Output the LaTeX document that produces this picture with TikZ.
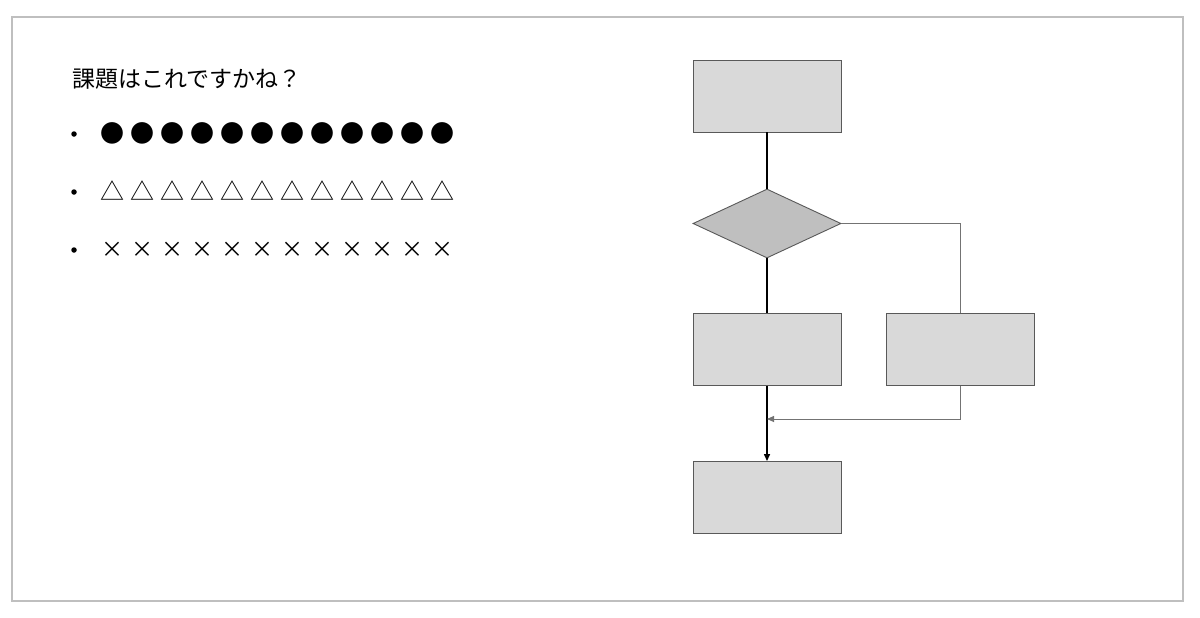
\documentclass[tikz,border=0pt]{standalone}
\usepackage{fontspec}
\newfontfamily\cjk{Noto Sans CJK JP}
\usetikzlibrary{shapes.geometric,arrows.meta}
\tikzset{
  procbox/.style={draw=black!65,line width=0.9pt,fill=black!15,minimum width=148pt,minimum height=72pt,inner sep=0pt},
  decbox/.style={diamond,aspect=2.15,draw=black!65,line width=0.9pt,fill=black!25,minimum width=148pt,minimum height=69pt,inner sep=0pt},
  mainline/.style={line width=1.4pt,black},
  sideline/.style={line width=0.9pt,black!55},
  tip/.style={-{Triangle[length=7pt,width=6pt]}},
  sym/.style={inner sep=0pt},
  circsym/.style={sym,font=\cjk\fontsize{24}{24}\selectfont},
  trisym/.style={sym,font=\cjk\fontsize{24}{24}\selectfont},
  crosssym/.style={sym,font=\cjk\fontsize{22}{22}\selectfont},
  bul/.style={circle,fill=black,inner sep=0pt,minimum size=5.5pt}
}
\begin{document}
\begin{tikzpicture}[x=1pt,y=-1pt]
\useasboundingbox (0,0) rectangle (1200,618);
\fill[white] (0,0) rectangle (1200,618);
\draw[black!25,line width=1.2pt] (12,17) rectangle (1183,601);
% text
\node[anchor=base west,inner sep=0pt,font=\cjk\fontsize{23}{23}\selectfont] (title) at (72,88) {課題はこれですかね？};
\node[bul] (b1) at (74,134) {};
\node[bul] (b2) at (74,192) {};
\node[bul] (b3) at (74,250) {};
\foreach \i in {0,...,11}{
  \node[circsym] (c\i) at (112.3+30*\i,133) {●};
  \node[trisym] (t\i) at (112.6+30*\i,191) {△};
  \node[crosssym] (x\i) at (112.5+30*\i,249.5) {×};
}
% flowchart
\node[procbox] (top) at (767,96) {};
\node[decbox] (dec) at (767,223.5) {};
\node[procbox] (left) at (767,349.5) {};
\node[procbox] (right) at (960.5,349.5) {};
\node[procbox] (bot) at (767,497.5) {};
\coordinate (merge) at (767,419);
\draw[mainline] (top.south) -- (dec.north);
\draw[mainline] (dec.south) -- (left.north);
\draw[mainline,tip] (left.south) -- (bot.north);
\draw[sideline] (dec.east) -| (right.north);
\draw[sideline,tip] (right.south) |- (merge);
\end{tikzpicture}
\end{document}
